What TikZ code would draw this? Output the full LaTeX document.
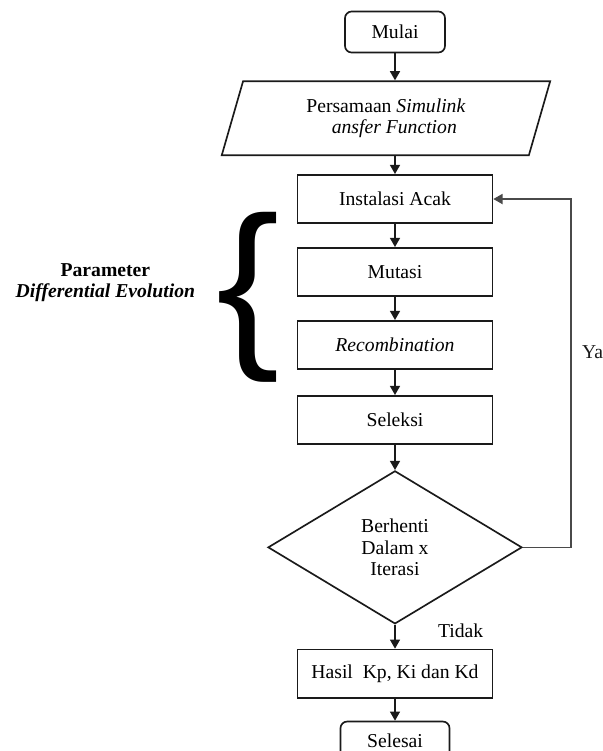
\documentclass[tikz,border=0pt]{standalone}
\usepackage{fontspec}
\setmainfont{Liberation Serif}
\newfontfamily\kurungfont{Liberation Sans}
\usepackage{tikz}
\usetikzlibrary{arrows.meta,positioning,calc,shapes.geometric}
\definecolor{ink}{HTML}{1A1A1A}
\definecolor{loopline}{HTML}{4A4A4A}

\begin{document}
\begin{tikzpicture}[font=\fontsize{11.8pt}{13pt}\selectfont,>={Triangle[length=5.5pt,width=6pt]},
  proses/.style={draw=ink,line width=1pt,minimum width=117pt,minimum height=29pt,
                 inner sep=2pt,align=center},
  ujung/.style={proses,rounded corners=4pt,minimum width=60pt,minimum height=24.6pt},
  panah/.style={->,draw=ink,line width=1pt}]
  \useasboundingbox (0,0) rectangle (361.8pt,-450.6pt);
  \node[ujung] (mulai) at (237pt,-19.2pt) {Mulai};
  \node[trapezium,trapezium left angle=75,trapezium right angle=105,trapezium stretches=true,
        draw=ink,line width=1pt,minimum width=197.4pt,minimum height=44.4pt,inner sep=2pt,
        align=center,below=16.2pt of mulai,xshift=-5.4pt] (input)
        {Persamaan \textit{Simulink}\\\hspace*{10pt}\textit{ansfer Function}};
  \node[proses,below=10.8pt of input,xshift=5.4pt] (acak) {Instalasi Acak};
  \node[proses,below=13.8pt of acak] (mutasi) {Mutasi};
  \node[proses,below=13.8pt of mutasi] (rekom) {\textit{Recombination}};
  \node[proses,below=15pt of rekom] (seleksi) {Seleksi};
  \node[diamond,draw=ink,line width=1pt,minimum width=152.4pt,minimum height=91.8pt,
        inner sep=0pt,align=center,below=15pt of seleksi] (henti) {Berhenti\\Dalam x\\Iterasi};
  \node[proses,below=14.4pt of henti] (hasil) {Hasil\ \ Kp, Ki dan Kd};
  \node[ujung,minimum width=65.4pt,minimum height=22.8pt,below=13.2pt of hasil] (selesai) {Selesai};

  \node[inner sep=0pt,anchor=east,yshift=6.6pt,xshift=-10pt]
        (kurung) at ($(mutasi.west)!0.5!(rekom.west)$) {\resizebox*{38pt}{102pt}{\kurungfont\{}};
  \node[left=9pt of kurung,yshift=9pt,align=center,font=\fontsize{11.8pt}{12.6pt}\selectfont\bfseries]
        (param) {Parameter\\\textit{Differential Evolution}};

  \draw[panah] (mulai.south) -- (mulai.south |- input.north);
  \draw[panah] (input.south -| acak) -- (acak.north);
  \draw[panah] (acak) -- (mutasi);
  \draw[panah] (mutasi) -- (rekom);
  \draw[panah] (rekom) -- (seleksi);
  \draw[panah] (seleksi) -- (henti);
  \draw[panah] (henti) -- node[pos=0.25,right=22pt]{Tidak} (hasil);
  \draw[panah] (hasil) -- (selesai);
  \draw[panah,draw=loopline] (henti.east) -- ++(28.8pt,0) |- node[pos=0.28,right=3pt,text=ink]{Ya} (acak.east);
\end{tikzpicture}
\end{document}
